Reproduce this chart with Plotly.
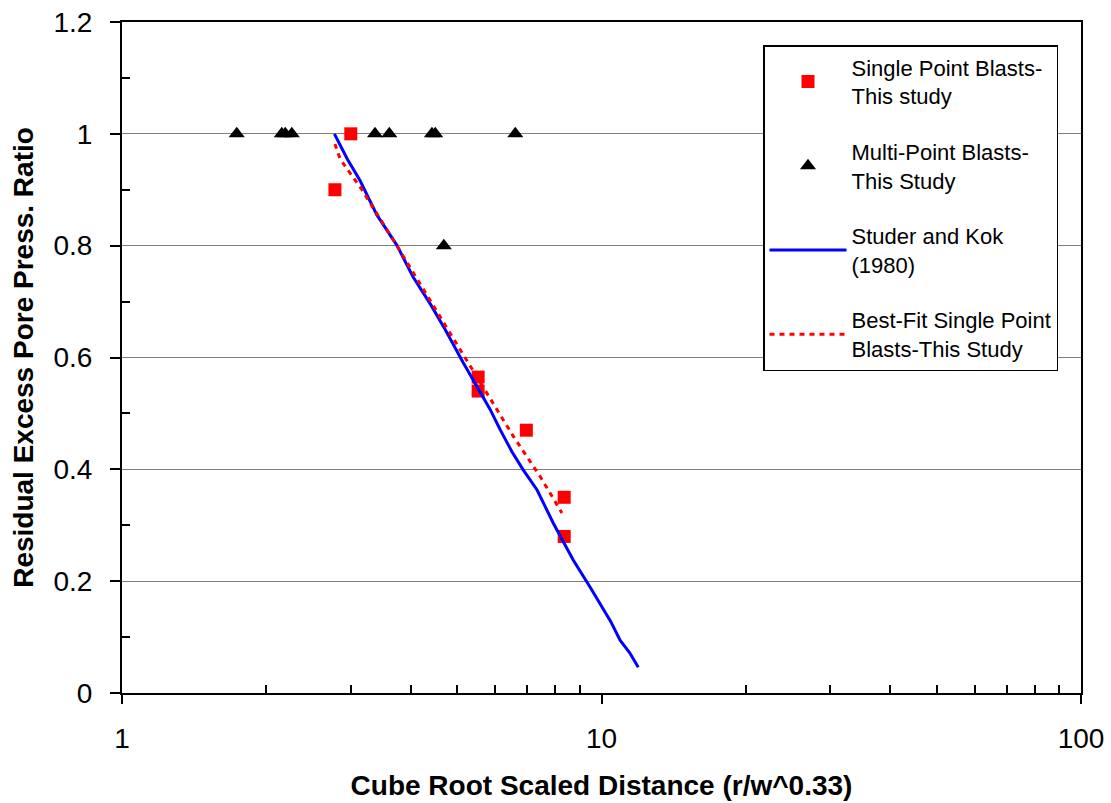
import plotly.graph_objects as go

# Single point blasts (this study)
single_x = [2.78, 3.00, 5.53, 5.53, 6.97, 8.36, 8.36]
single_y = [0.90, 1.00, 0.565, 0.54, 0.47, 0.35, 0.28]

# Multi point blasts (this study)
multi_x = [1.735, 2.154, 2.19, 2.26, 3.37, 3.61, 4.43, 4.50, 6.61, 4.69]
multi_y = [1.0, 1.0, 1.0, 1.0, 1.0, 1.0, 1.0, 1.0, 1.0, 0.8]

# Studer and Kok (1980)
studer_x = [2.773, 2.95, 3.138, 3.40, 3.742, 4.047, 4.40, 4.72, 5.145, 5.583, 5.85,
            6.147, 6.50, 6.866, 7.34, 7.93, 8.30, 8.73, 9.47, 10.03, 10.45,
            10.94, 11.45, 11.93]
studer_y = [1.0, 0.955, 0.916, 0.855, 0.801, 0.744, 0.695, 0.650, 0.591, 0.539, 0.508,
            0.471, 0.432, 0.399, 0.363, 0.304, 0.273, 0.238, 0.189, 0.152, 0.128,
            0.094, 0.072, 0.046]

# Best-fit single point blasts
fit_x = [2.78, 2.85, 3.16, 3.742, 5.073, 5.77, 6.55, 7.45, 8.27]
fit_y = [0.982, 0.955, 0.901, 0.80, 0.614, 0.537, 0.459, 0.387, 0.322]

x_tickvals = [1, 10, 100]
x_ticktext = ["1", "10", "100"]
x_minor = [2, 3, 4, 5, 6, 7, 8, 9, 20, 30, 40, 50, 60, 70, 80, 90]
y_minor = [0.1, 0.3, 0.5, 0.7, 0.9, 1.1]

FONT = "Liberation Sans, Arial, sans-serif"

fig = go.Figure()
fig.add_trace(go.Scatter(
    x=single_x, y=single_y, mode="markers",
    name="Single Point Blasts-<br>This study",
    marker=dict(symbol="square", size=13, color="#ff0000"),
    legendgroup="a"))
fig.add_trace(go.Scatter(
    x=multi_x, y=multi_y, mode="markers",
    name="Multi-Point Blasts-<br>This Study",
    marker=dict(symbol="triangle-up", size=14, color="black"),
    legendgroup="b"))
fig.add_trace(go.Scatter(
    x=studer_x, y=studer_y, mode="lines",
    name="Studer and Kok<br>(1980)",
    line=dict(color="#0000ff", width=3),
    legendgroup="c"))
fig.add_trace(go.Scatter(
    x=fit_x, y=fit_y, mode="lines",
    name="Best-Fit Single Point<br>Blasts-This Study",
    line=dict(color="#ff0000", width=3, dash="5px,5px"),
    legendgroup="d"))

fig.update_layout(
    width=1111, height=803,
    margin=dict(l=122, r=30, t=22, b=110),
    paper_bgcolor="white", plot_bgcolor="white",
    font=dict(family=FONT, color="black", size=22),
    legend=dict(
        x=(763 - 122) / 959, y=(693 - 45) / 671,
        xanchor="left", yanchor="top",
        bordercolor="black", borderwidth=1.5,
        font=dict(size=22, family=FONT),
        tracegroupgap=24, traceorder="grouped",
        itemwidth=77,
    ),
    xaxis=dict(
        type="log", range=[0, 2], automargin=False,
        showline=True, linecolor="black", linewidth=2, mirror=True,
        ticks="outside", ticklen=9, tickwidth=2, tickcolor="black",
        tickvals=x_tickvals, ticktext=x_ticktext,
        tickfont=dict(size=28, family=FONT),
        ticklabelstandoff=10,
        minor=dict(tickvals=x_minor, ticks="inside", ticklen=8,
                   tickwidth=1.5, tickcolor="black", showgrid=False),
        showgrid=False, zeroline=False,
        title=dict(text="<b>Cube Root Scaled Distance (r/w^0.33)</b>",
                   font=dict(size=28, family=FONT), standoff=23),
    ),
    yaxis=dict(
        range=[0, 1.2], dtick=0.2, tick0=0, automargin=False,
        showline=True, linecolor="black", linewidth=2, mirror=True,
        ticks="outside", ticklen=10, tickwidth=2, tickcolor="black",
        tickfont=dict(size=28, family=FONT),
        ticklabelstandoff=12,
        showgrid=True, gridcolor="#808080", gridwidth=1.2,
        zeroline=False,
        minor=dict(tickvals=y_minor, ticks="inside", ticklen=8,
                   tickwidth=1.5, tickcolor="black", showgrid=False),
        title=dict(text="<b>Residual Excess Pore Press. Ratio</b>",
                   font=dict(size=28, family=FONT), standoff=12),
    ),
    showlegend=True,
)

fig.write_html("out.html")
